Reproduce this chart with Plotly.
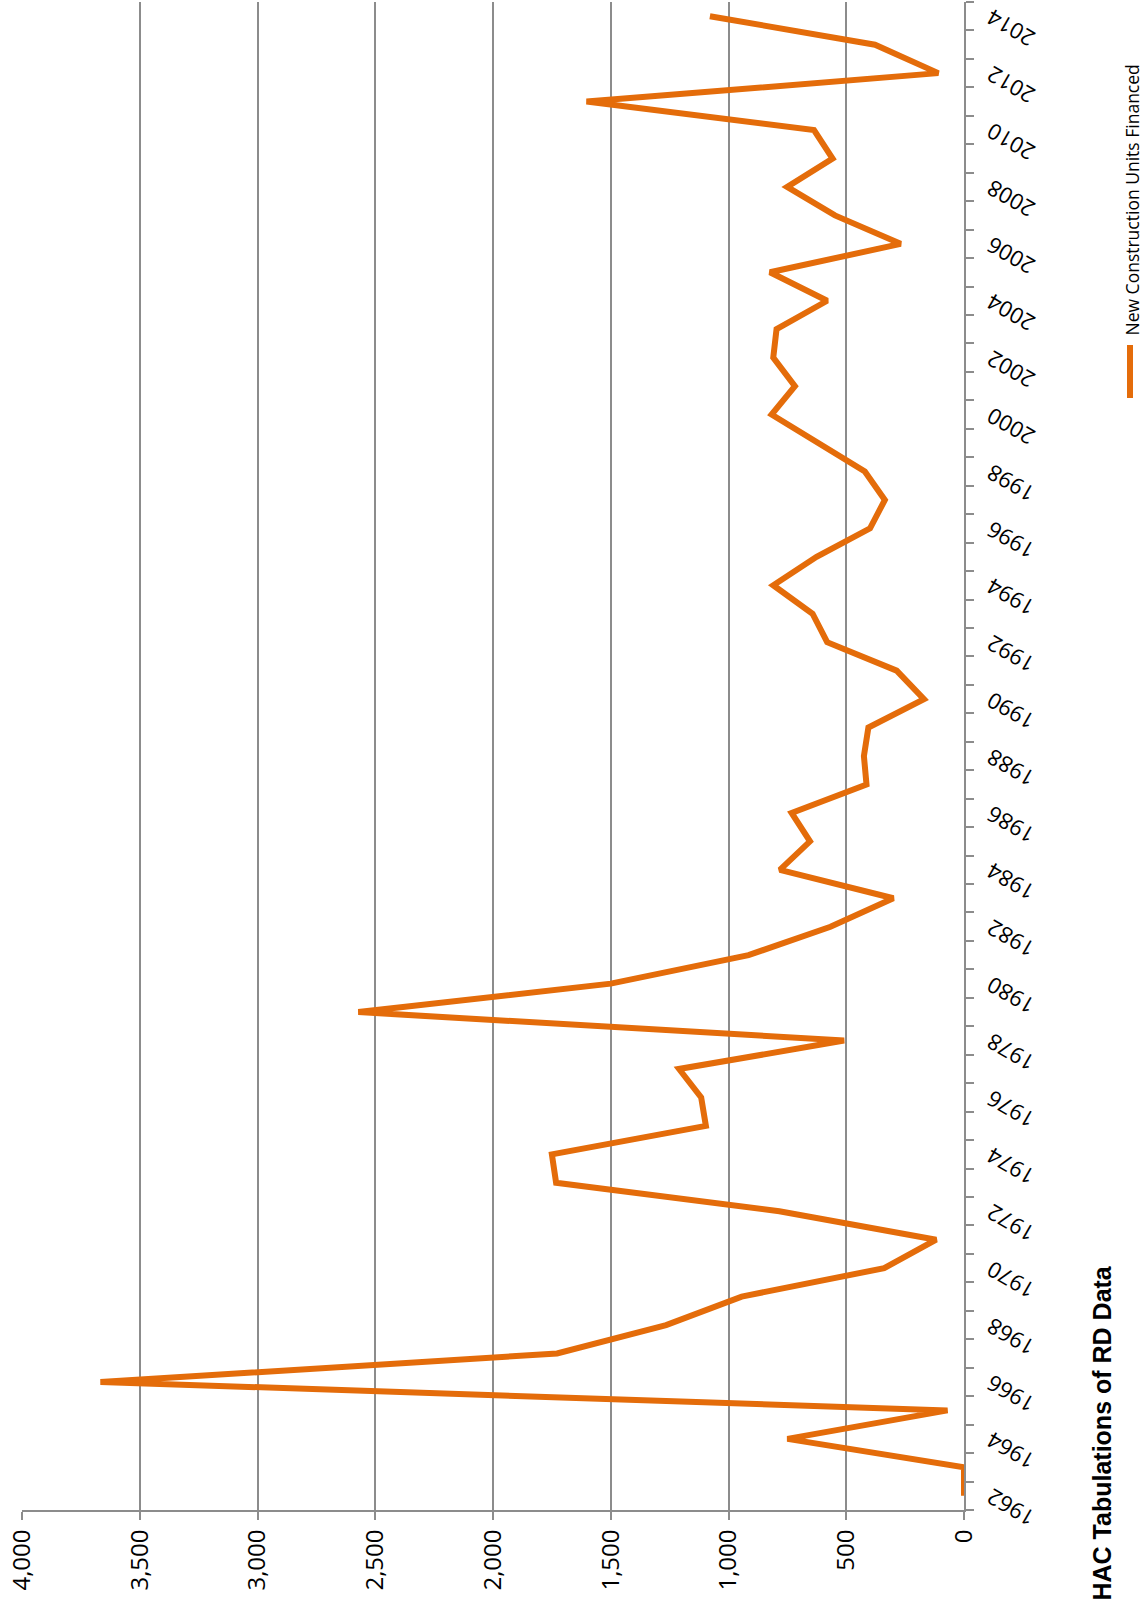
import plotly.graph_objects as go

years = [1962, 1963, 1964, 1965, 1966, 1967, 1968, 1969, 1970, 1971,
         1972, 1973, 1974, 1975, 1976, 1977, 1978, 1979, 1980, 1981,
         1982, 1983, 1984, 1985, 1986, 1987, 1988, 1989, 1990, 1991,
         1992, 1993, 1994, 1995, 1996, 1997, 1998, 1999, 2000, 2001,
         2002, 2003, 2004, 2005, 2006, 2007, 2008, 2009, 2010, 2011,
         2012, 2013, 2014]
units = [0, 0, 750, 70, 3667, 1728, 1265, 944, 339, 118,
         784, 1732, 1750, 1096, 1116, 1210, 509, 2572, 1500, 915,
         567, 300, 782, 654, 732, 414, 425, 406, 170, 286,
         581, 643, 810, 626, 399, 336, 421, 620, 817, 718,
         810, 796, 581, 824, 269, 548, 751, 558, 637, 1603,
         109, 378, 1079]
value_ticks = [0, 500, 1000, 1500, 2000, 2500, 3000, 3500, 4000]
year_labels = [1962, 1964, 1966, 1968, 1970, 1972, 1974, 1976, 1978, 1980,
               1982, 1984, 1986, 1988, 1990, 1992, 1994, 1996, 1998, 2000,
               2002, 2004, 2006, 2008, 2010, 2012, 2014]
series_name = "New Construction Units Financed"
title_text = "HAC Tabulations of RD Data"

ORANGE = "#E46C0A"
GRID = "#8c8c8c"
W, H = 1144, 1606
L, R, T, B = 22, 180, 2, 96
pw, ph = W - L - R, H - T - B

def px_x(X):
    return (X - L) / pw

def px_y(Y):
    return (H - B - Y) / ph

fig = go.Figure()
fig.add_trace(go.Scatter(
    x=units, y=years, mode="lines", name=series_name,
    line=dict(color=ORANGE, width=6), showlegend=False,
))

fig.update_layout(
    template="none",
    width=W, height=H, autosize=False,
    margin=dict(l=L, r=R, t=T, b=B, pad=0, autoexpand=False),
    paper_bgcolor="white", plot_bgcolor="white",
    font=dict(family="Open Sans", color="black"),
    showlegend=False,
    xaxis=dict(
        range=[4000, 0], tickvals=value_ticks, tickformat=",",
        tickangle=-90, tickfont=dict(size=24, family="Open Sans", color="black"),
        showgrid=True, gridcolor=GRID, gridwidth=1.75,
        zeroline=False, showline=True, linecolor=GRID, linewidth=1.75,
        ticks="outside", ticklen=8, tickcolor=GRID, tickwidth=1.75,
        automargin=False,
    ),
    yaxis=dict(
        range=[1961.5, 2014.5], side="right",
        tickvals=year_labels, tickangle=-150,
        tickfont=dict(size=22, family="Open Sans", color="black"),
        showgrid=False, zeroline=False,
        showline=True, linecolor=GRID, linewidth=1.75,
        ticks="outside", ticklen=8, tickcolor="rgba(0,0,0,0)",
        ticklabelstandoff=53, ticklabelshift=30,
        minor=dict(tick0=1961.5, dtick=1, ticks="outside", ticklen=8,
                   tickcolor=GRID, tickwidth=1.75, showgrid=False),
        automargin=False,
    ),
)

# rotated title
fig.add_annotation(
    text="<b>" + title_text + "</b>", textangle=-90,
    xref="paper", yref="paper", x=px_x(1101), y=px_y(1603),
    xanchor="center", yanchor="bottom", showarrow=False,
    font=dict(family="Liberation Sans", size=25, color="black"),
)

# rotated legend
fig.add_annotation(
    text=series_name, textangle=-90,
    xref="paper", yref="paper", x=px_x(1131), y=px_y(338),
    xanchor="center", yanchor="bottom", showarrow=False,
    font=dict(family="Open Sans", size=17.5, color="black"),
)
fig.add_shape(
    type="line", xref="paper", yref="paper",
    x0=px_x(1130), x1=px_x(1130), y0=px_y(398), y1=px_y(345),
    line=dict(color=ORANGE, width=6),
)

fig.write_html(
    "out.html",
    config={"displayModeBar": False},
    post_script="document.body.style.margin='0';document.body.style.padding='0';",
)
